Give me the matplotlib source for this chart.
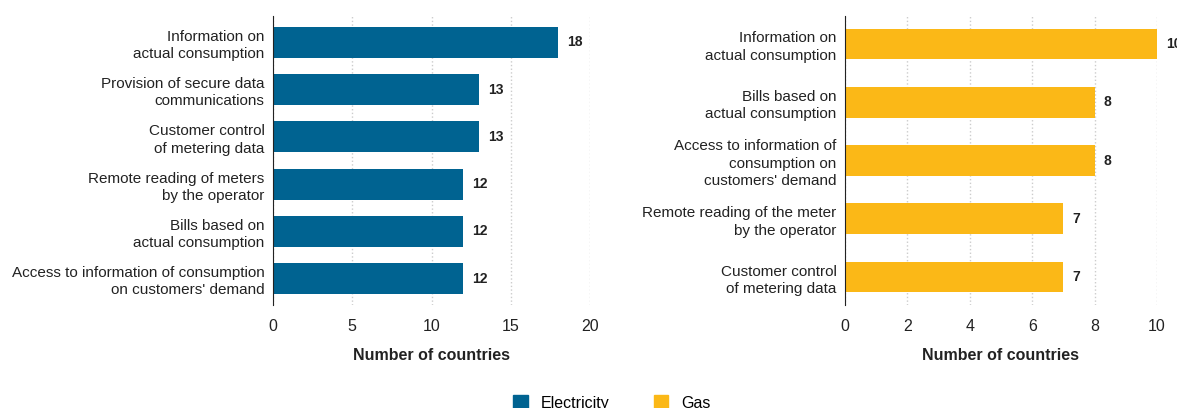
import matplotlib.pyplot as plt
from matplotlib.patches import Patch

plt.rcParams['font.family'] = ['Liberation Sans', 'DejaVu Sans']

# electricity panel, top to bottom
elec_labels = ["Information on\nactual consumption",
               "Provision of secure data\ncommunications",
               "Customer control\nof metering data",
               "Remote reading of meters\nby the operator",
               "Bills based on\nactual consumption",
               "Access to information of consumption\non customers' demand"]
elec_values = [18, 13, 13, 12, 12, 12]

# gas panel, top to bottom
gas_labels = ["Information on\nactual consumption",
              "Bills based on\nactual consumption",
              "Access to information of\nconsumption on\ncustomers' demand",
              "Remote reading of the meter\nby the operator",
              "Customer control\nof metering data"]
gas_values = [10, 8, 8, 7, 7]

blue = '#006391'
yellow = '#FBB817'

fig = plt.figure(figsize=(11.77, 4.08), dpi=100)
ax1 = fig.add_axes([273/1177, 1-305/408, (590-273)/1177, 289/408])
ax2 = fig.add_axes([845/1177, 1-305/408, (1157-845)/1177, 289/408])


def draw(ax, labels, values, color, xmax, step, bar_h, pad):
    n = len(values)
    pos = list(range(n))[::-1]
    ax.barh(pos, values, height=bar_h, color=color, zorder=2)
    for p, v in zip(pos, values):
        ax.annotate(str(v), (v, p), xytext=(6.5, 0), textcoords='offset points',
                    va='center', ha='left', fontsize=10, fontweight='bold',
                    color='#222222', annotation_clip=False)
    ax.set_xlim(0, xmax)
    ax.set_xticks(range(0, xmax + 1, step))
    ax.set_ylim(-pad, n - 1 + pad)
    ax.tick_params(length=0, colors='#222222')
    ax.tick_params(axis='x', pad=10, labelsize=11.5)
    ax.tick_params(axis='y', pad=6)
    ax.set_yticks(pos)
    ax.set_yticklabels(labels, fontsize=11, color='#222222', linespacing=1.3)
    ax.grid(axis='x', color='#cccccc', linestyle=':', linewidth=1, zorder=0)
    for s in ['top', 'right', 'bottom']:
        ax.spines[s].set_visible(False)
    ax.spines['left'].set_color('#222222')
    ax.spines['left'].set_zorder(3)
    ax.set_xlabel('Number of countries', fontsize=11.5, fontweight='bold',
                  color='#222222', labelpad=10)


draw(ax1, elec_labels, elec_values, blue, 20, 5, 0.66, 0.56)
draw(ax2, gas_labels, gas_values, yellow, 10, 2, 0.53, 0.48)

handles = [Patch(color=blue, label='Electricity'), Patch(color=yellow, label='Gas')]
fig.legend(handles=handles, loc='center', bbox_to_anchor=(612/1177, 1-403/408),
           ncol=2, frameon=False, fontsize=11.5, handlelength=0.9, handleheight=1.0,
           columnspacing=2.8, handletextpad=0.8)

fig.savefig('out.png', dpi=100)
